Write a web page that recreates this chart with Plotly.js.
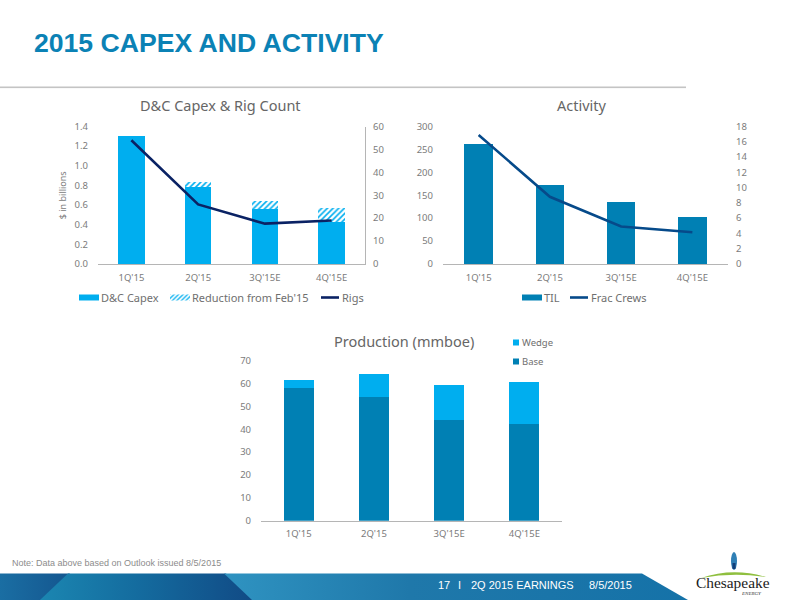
<!DOCTYPE html>
<html><head><meta charset="utf-8">
<script src="https://cdn.plot.ly/plotly-3.0.1.min.js"></script>
<style>
html,body{margin:0;padding:0;background:#fff;width:800px;height:600px;overflow:hidden}
#bg{position:absolute;left:0;top:0;z-index:0}
#chart{position:absolute;left:0;top:0;width:800px;height:600px;z-index:1}
</style></head><body>
<svg id="bg" width="800" height="600" viewBox="0 0 800 600">
<defs>
<linearGradient id="g1" x1="0" x2="1" y1="0" y2="0"><stop offset="0" stop-color="#1a6ea3"/><stop offset="1" stop-color="#14568f"/></linearGradient>
<linearGradient id="g2" x1="0" x2="1" y1="0" y2="0"><stop offset="0" stop-color="#1b86b1"/><stop offset="0.45" stop-color="#146c9f"/><stop offset="1" stop-color="#114a85"/></linearGradient>
<linearGradient id="g3" x1="0" x2="1" y1="0" y2="0"><stop offset="0" stop-color="#2f93c1"/><stop offset="0.4" stop-color="#1f78aa"/><stop offset="1" stop-color="#1572a8"/></linearGradient>
</defs>
<rect x="0" y="86.5" width="686" height="1.6" fill="#c4c4c4"/>
<polygon points="0,573.5 70,573.5 42,600 0,600" fill="url(#g1)"/>
<polygon points="68,573.5 226,573.5 254,600 40,600" fill="url(#g2)"/>
<polygon points="224,573.5 642,573.5 688,600 252,600" fill="url(#g3)"/>
<path d="M701,578 Q733,567 766,577 Q733,572 701,578Z" fill="#8fbf3f"/>
<ellipse cx="734" cy="561" rx="3" ry="9" fill="#2f7fb5"/>
<rect x="732.5" y="563" width="3" height="6" fill="#123f7a"/>
</svg>
<div id="chart"></div>
<script>
var quarters = ["1Q'15", "2Q'15", "3Q'15E", "4Q'15E"];
var capex = [1.3, 0.78, 0.555, 0.43];
var reduction = [0, 0.06, 0.085, 0.145];
var rigs = [54, 26, 17.6, 19];
var til = [262, 173, 135, 103];
var fracCrews = [16.9, 8.8, 4.9, 4.15];
var base = [58, 54, 44, 42.5];
var wedge = [3.7, 10, 15.5, 18];

var BRIGHT = '#00AEEF', TEAL = '#0080B4', NAVY = '#0A2264', DEEP = '#064A8A';
var GREY = '#7b7b7b', AXIS = '#b5b5b5';
var FONT = '"Noto Sans", sans-serif';
var W = 800, H = 600;
function xd(a, b) { return [a / W, b / W]; }
function yd(top, bottom) { return [1 - bottom / H, 1 - top / H]; }

var traces = [
  {type:'bar', name:'D&C Capex', x:quarters, y:capex, xaxis:'x', yaxis:'y', width:0.4, marker:{color:BRIGHT}, legend:'legend'},
  {type:'bar', name:"Reduction from Feb'15", x:quarters, y:reduction, xaxis:'x', yaxis:'y', width:0.4,
    marker:{color:'#ffffff', pattern:{shape:'/', fgcolor:BRIGHT, bgcolor:'#ffffff', size:4, solidity:0.4}}, legend:'legend'},
  {type:'scatter', mode:'lines', name:'Rigs', x:quarters, y:rigs, xaxis:'x', yaxis:'y2', line:{color:NAVY, width:2.6}, legend:'legend'},
  {type:'bar', name:'TIL', x:quarters, y:til, xaxis:'x2', yaxis:'y3', width:0.4, marker:{color:TEAL}, legend:'legend2'},
  {type:'scatter', mode:'lines', name:'Frac Crews', x:quarters, y:fracCrews, xaxis:'x2', yaxis:'y4', line:{color:DEEP, width:2.6}, legend:'legend2'},
  {type:'bar', name:'Base', x:quarters, y:base, xaxis:'x3', yaxis:'y5', width:0.4, marker:{color:TEAL}, legend:'legend3'},
  {type:'bar', name:'Wedge', x:quarters, y:wedge, xaxis:'x3', yaxis:'y5', width:0.4, marker:{color:BRIGHT}, legend:'legend3'}
];

var tickfont = {family:FONT, size:9.5, color:GREY};
function catAxis(dom, anchor) {
  return {domain:dom, anchor:anchor, type:'category', range:[-0.5, 3.5], showgrid:false, zeroline:false,
    showline:true, linecolor:AXIS, linewidth:1.2, ticks:'', tickfont:tickfont, ticklabelstandoff:4};
}
function valAxis(dom, anchor, range, dtick, fmt, side, overlay, line, standoff) {
  var a = {domain:dom, anchor:anchor, range:range, dtick:dtick, tick0:0, tickformat:fmt, showgrid:false, zeroline:false,
    showline:!!line, linecolor:AXIS, linewidth:1.2, ticks:'', tickfont:tickfont, side:side, ticklabelstandoff:standoff};
  if (overlay) { a.overlaying = overlay; }
  return a;
}
function note(text, x, y, size, color, anchor, family) {
  return {text:text, xref:'paper', yref:'paper', x:x / W, y:1 - y / H, showarrow:false,
    xanchor:anchor || 'center', yanchor:'middle', font:{family:family || FONT, size:size, color:color}};
}
var ARIAL = 'Liberation Sans, Arial, sans-serif';
var SERIF = 'Liberation Serif, serif';
var legendFont = {family:FONT, size:11, color:'#6f6f6f'};

var layout = {
  width:W, height:H, autosize:false, margin:{l:0, r:0, t:0, b:0},
  paper_bgcolor:'rgba(0,0,0,0)', plot_bgcolor:'rgba(0,0,0,0)', barmode:'stack', bargap:0.6, showlegend:true,
  title:{text:'<b>2015 CAPEX AND ACTIVITY</b>', x:34 / W, xanchor:'left', xref:'paper', y:1 - 43 / H, yanchor:'middle',
    font:{family:ARIAL, size:26.6, color:'#0B82B5'}},
  xaxis:catAxis(xd(98, 365), 'y'),
  yaxis:(function(){ var a = valAxis(yd(126.5, 264), 'x', [0, 1.4], 0.2, '.1f', 'left', null, false, 9);
    a.title = {text:'$ in billions', font:{family:FONT, size:9, color:GREY}, standoff:6}; return a; })(),
  yaxis2:valAxis(yd(126.5, 264), 'x', [0, 60], 10, 'd', 'right', 'y', true, 5),
  xaxis2:catAxis(xd(443, 728), 'y3'),
  yaxis3:valAxis(yd(126.5, 264), 'x2', [0, 300], 50, 'd', 'left', null, false, 9),
  yaxis4:valAxis(yd(126.5, 264), 'x2', [0, 18], 2, 'd', 'right', 'y3', false, 7),
  xaxis3:catAxis(xd(261, 562), 'y5'),
  yaxis5:valAxis(yd(360.7, 520.7), 'x3', [0, 70], 10, 'd', 'left', null, false, 9),
  legend:{orientation:'h', x:62 / W, y:1 - 283 / H, xanchor:'left', yanchor:'top', font:legendFont, bgcolor:'rgba(0,0,0,0)', traceorder:'normal'},
  legend2:{orientation:'h', x:505 / W, y:1 - 283 / H, xanchor:'left', yanchor:'top', font:legendFont, bgcolor:'rgba(0,0,0,0)', traceorder:'normal'},
  legend3:{x:483 / W, y:1 - 328 / H, xanchor:'left', yanchor:'top', font:{family:FONT, size:9.5, color:'#6f6f6f'}, bgcolor:'rgba(0,0,0,0)', traceorder:'reversed', tracegroupgap:0},
  annotations:[
    note('D&amp;C Capex &amp; Rig Count', 220, 105.5, 14.5, '#666666'),
    note('Activity', 582, 105.5, 14.5, '#666666'),
    note('Production (mmboe)', 404, 340.5, 14.5, '#666666'),
    note('Note: Data above based on Outlook issued 8/5/2015', 9.5, 563, 9, '#8c8c8c', 'left', ARIAL),
    note('17', 435.5, 585, 11, '#ffffff', 'left', ARIAL),
    note('I', 456, 585, 11, '#ffffff', 'left', ARIAL),
    note('2Q 2015 EARNINGS', 468.5, 585, 11, '#ffffff', 'left', ARIAL),
    note('8/5/2015', 586.5, 585, 11, '#ffffff', 'left', ARIAL),
    note('Chesapeake', 732.5, 582, 15.4, '#1b1b1b', 'center', SERIF),
    note('<i>ENERGY</i>', 751, 593, 5, '#333333', 'center', SERIF)
  ]
};

var legendTextLeft = {'D&C Capex':101, "Reduction from Feb'15":192, 'Rigs':342, 'TIL':544, 'Frac Crews':591, 'Wedge':522, 'Base':522};

// Excel-style legend keys: flat bar swatches, short line keys, tight entry spacing
function tidyLegends() {
  document.querySelectorAll('#chart g.traces').forEach(function (g) {
    var t = g.querySelector('text');
    if (!t || !g.querySelector('.legendpoints') || !(t.textContent in legendTextLeft)) { return; }
    var name = t.textContent;
    var small = name === 'Wedge' || name === 'Base';
    g.querySelectorAll('.legendpoints path:not(.js-line)').forEach(function (p) {
      p.setAttribute('d', small ? 'M3,3H-3V-3H3Z' : 'M10,3H-10V-3H10Z');
      p.setAttribute('transform', 'translate(' + (small ? 34 : 28) + ',0)');
    });
    g.querySelectorAll('path.js-line').forEach(function (p) {
      p.setAttribute('d', 'M19,0h18');
    });
    var m = /translate\(([-\d.]+),\s*([-\d.]+)\)/.exec(g.getAttribute('transform') || 'translate(0,0)');
    var dx = legendTextLeft[name] - t.getBoundingClientRect().left;
    g.setAttribute('transform', 'translate(' + (parseFloat(m[1]) + dx) + ',' + m[2] + ')');
  });
}

Plotly.newPlot('chart', traces, layout, {displayModeBar:false, staticPlot:true}).then(tidyLegends);
</script>
</body></html>
